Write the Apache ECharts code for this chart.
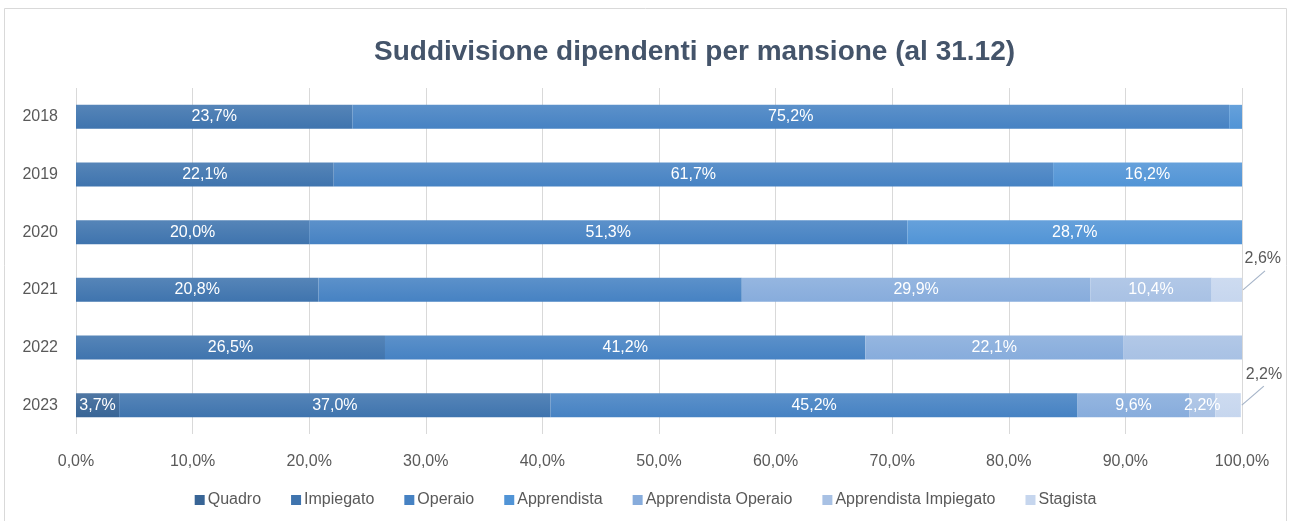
<!DOCTYPE html>
<html>
<head>
<meta charset="utf-8">
<script src="https://cdn.jsdelivr.net/npm/echarts@6/dist/echarts.min.js"></script>
<style>
  html, body { margin: 0; padding: 0; background: #fff; }
  #chart { width: 1291px; height: 521px; }
</style>
</head>
<body>
<div id="chart"></div>
<script>
// categories (top to bottom)
const years = ['2018', '2019', '2020', '2021', '2022', '2023'];

// share of employees per role, %
const quadro        = [null, null, null, null, null, 3.7];
const impiegato     = [23.7, 22.1, 20.0, 20.8, 26.5, 37.0];
const operaio       = [75.2, 61.7, 51.3, 36.3, 41.2, 45.2];
const apprendista   = [1.1, 16.2, 28.7, null, null, null];
const apprOperaio   = [null, null, null, 29.9, 22.1, 9.6];
const apprImpiegato = [null, null, null, 10.4, 10.2, 2.2];
const stagista      = [null, null, null, 2.6, null, 2.2];

const xTicks = [0, 10, 20, 30, 40, 50, 60, 70, 80, 90, 100];

// labels that the original chart does not print
const hiddenLabels = {
  'Apprendista': ['2018'],
  'Operaio': ['2021'],
  'Apprendista Impiegato': ['2022'],
};

const seriesDefs = [
  {name: 'Quadro', values: quadro, color: '#386596'},
  {name: 'Impiegato', values: impiegato, color: '#3f74ae'},
  {name: 'Operaio', values: operaio, color: '#4682c3'},
  {name: 'Apprendista', values: apprendista, color: '#5194d6'},
  {name: 'Apprendista Operaio', values: apprOperaio, color: '#87acdc'},
  {name: 'Apprendista Impiegato', values: apprImpiegato, color: '#a8c1e4'},
  {name: 'Stagista', values: stagista, color: '#c6d6ee'},
];

const FONT = '"Liberation Sans", Arial, sans-serif';
const fmt = v => Number(v).toFixed(1).replace('.', ',') + '%';

function lighten(hex, amt) {
  const n = parseInt(hex.slice(1), 16);
  const ch = [(n >> 16) & 255, (n >> 8) & 255, n & 255].map(c => Math.round(c + (255 - c) * amt));
  return 'rgb(' + ch.join(',') + ')';
}

function buildSeries(def) {
  const hidden = hiddenLabels[def.name] || [];
  const outside = def.name === 'Stagista';
  const s = {
    name: def.name,
    type: 'bar',
    stack: 'total',
    barWidth: 24,
    itemStyle: {
      color: new echarts.graphic.LinearGradient(0, 0, 0, 1, [
        {offset: 0, color: lighten(def.color, 0.12)},
        {offset: 1, color: def.color},
      ]),
    },
    label: {
      show: true,
      position: 'inside',
      color: outside ? '#595959' : '#ffffff',
      fontFamily: FONT,
      fontSize: 16,
      formatter: p => fmt(p.value),
    },
    data: def.values.map((v, i) => v == null ? null : {
      value: v,
      label: {show: !hidden.includes(years[i])},
    }),
  };
  if (outside) {
    s.labelLayout = {dx: 36, dy: -31};
  }
  return s;
}

// leader lines for the outside labels: from the end of the stacked bar up-right
const stackEnd = years.map((y, i) =>
  seriesDefs.reduce((sum, d) => sum + (d.values[i] || 0), 0));
const leaderData = stagista
  .map((v, i) => v == null ? null : [Math.min(100, stackEnd[i]), i])
  .filter(d => d);

const leaderSeries = {
  type: 'custom',
  silent: true,
  z: 5,
  data: leaderData,
  renderItem: (params, api) => {
    const p = api.coord([api.value(0), api.value(1)]);
    return {
      type: 'line',
      shape: {x1: p[0] + 1, y1: p[1], x2: p[0] + 23, y2: p[1] - 19},
      style: {stroke: '#a5b4c8', lineWidth: 1.2},
    };
  },
};

const chart = echarts.init(document.getElementById('chart'));
chart.setOption({
  animation: false,
  color: seriesDefs.map(d => d.color),
  title: {
    text: 'Suddivisione dipendenti per mansione (al 31.12)',
    left: 369,
    top: 33,
    textStyle: {color: '#44546a', fontFamily: FONT, fontSize: 28, fontWeight: 'bold'},
  },
  grid: {left: 76, right: 49, top: 88, bottom: 87},
  xAxis: {
    type: 'value',
    min: xTicks[0],
    max: xTicks[xTicks.length - 1],
    interval: xTicks[1] - xTicks[0],
    axisLine: {show: false},
    axisTick: {show: false},
    splitLine: {lineStyle: {color: '#d9d9d9'}},
    axisLabel: {color: '#595959', fontFamily: FONT, fontSize: 16, margin: 20, formatter: fmt},
  },
  yAxis: {
    type: 'category',
    inverse: true,
    data: years,
    axisLine: {show: false},
    axisTick: {show: false},
    axisLabel: {color: '#595959', fontFamily: FONT, fontSize: 16, margin: 18},
  },
  legend: {
    top: 487,
    left: 'center',
    icon: 'rect',
    itemWidth: 10,
    itemHeight: 10,
    itemGap: 30,
    textStyle: {color: '#595959', fontFamily: FONT, fontSize: 16, padding: [0, 0, 0, -2]},
    data: seriesDefs.map(d => ({name: d.name, itemStyle: {color: d.color}})),
  },
  graphic: [{
    type: 'rect',
    silent: true,
    shape: {x: 4.5, y: 8.5, width: 1282, height: 530},
    style: {fill: null, stroke: '#d9d9d9', lineWidth: 1},
  }],
  series: seriesDefs.map(buildSeries).concat([leaderSeries]),
});
</script>
</body>
</html>
